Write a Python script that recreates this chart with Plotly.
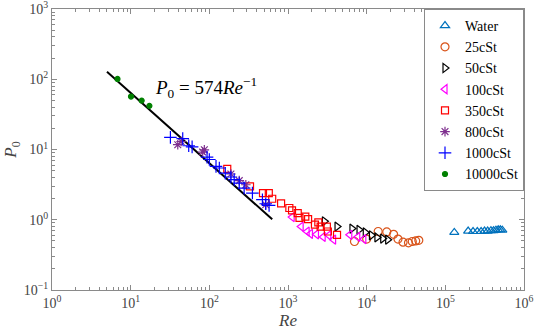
import numpy as np
import plotly.graph_objects as go

# ---- data ----
water_re = [130e3, 195e3, 225e3, 255e3, 285e3, 315e3, 345e3, 380e3, 410e3, 440e3, 470e3, 500e3, 530e3]
water_p0 = [0.66, 0.69, 0.68, 0.68, 0.68, 0.69, 0.69, 0.70, 0.70, 0.71, 0.72, 0.72, 0.71]

c25_re = [7000, 10000, 14000, 18000, 22000, 25000, 29000, 34000, 38000, 42000, 46000]
c25_p0 = [0.49, 0.53, 0.68, 0.67, 0.62, 0.53, 0.48, 0.47, 0.49, 0.50, 0.51]

c50_re = [2900, 4200, 6500, 8000, 9600, 11500, 13500, 16000, 18500]
c50_p0 = [0.95, 0.80, 0.75, 0.72, 0.66, 0.60, 0.56, 0.54, 0.52]

c100_re = [1130, 1470, 1750, 1930, 2300, 2800, 3300, 3800, 6100, 7700, 9200]
c100_p0 = [1.09, 0.80, 0.68, 0.63, 0.62, 0.57, 0.60, 0.52, 0.61, 0.57, 0.53]

c350_re = [169, 329, 481, 570, 630, 817, 1040, 1125, 1330, 1400, 1660, 1800, 2200, 2430, 2600, 3120, 3210, 4200]
c350_p0 = [5.3, 2.98, 2.39, 2.39, 1.99, 1.71, 1.47, 1.36, 1.24, 1.06, 1.11, 1.02, 0.85, 0.92, 0.80, 0.80, 0.68, 0.61]

c800_re = [39.7, 43.8, 86.4, 82.3, 188, 240, 291, 521]
c800_p0 = [11.7, 13.0, 9.9, 9.2, 4.48, 3.6, 3.15, 1.64]

c1000_re = [32, 45.9, 54.7, 60.4, 93.5, 100, 121.6, 134, 159.5, 188, 207, 240, 277, 353, 473, 521, 575]
c1000_p0 = [14.9, 14.3, 11.3, 10.9, 7.8, 7.2, 5.75, 5.45, 4.6, 4.06, 3.72, 3.33, 2.82, 2.4, 1.93, 1.69, 1.6]

c10000_re = [6.8, 10.1, 13.8, 17.3]
c10000_p0 = [101, 56.7, 49.7, 41.8]

fit_re = [5, 630]
fit_coef = 640  # drawn line as it appears

x_tick_vals = [1, 10, 100, 1e3, 1e4, 1e5, 1e6]
x_tick_text = ["10<sup>0</sup>", "10<sup>1</sup>", "10<sup>2</sup>", "10<sup>3</sup>",
               "10<sup>4</sup>", "10<sup>5</sup>", "10<sup>6</sup>"]
y_tick_vals = [0.1, 1, 10, 100, 1000]
y_tick_text = ["10<sup>−1</sup>", "10<sup>0</sup>", "10<sup>1</sup>", "10<sup>2</sup>", "10<sup>3</sup>"]

FONT = "Liberation Serif"
AX = "#8a8a8a"

fig = go.Figure()

fit_p = [fit_coef / r for r in fit_re]
fig.add_trace(go.Scatter(x=fit_re, y=fit_p, mode="lines",
                         line=dict(color="black", width=2), showlegend=False, hoverinfo="skip"))

series = [
    ("Water", water_re, water_p0, "triangle-up-open", "#0072BD", 8),
    ("25cSt", c25_re, c25_p0, "circle-open", "#D95319", 8),
    ("50cSt", c50_re, c50_p0, "triangle-right-open", "#000000", 8),
    ("100cSt", c100_re, c100_p0, "triangle-left-open", "#FF00FF", 8),
    ("350cSt", c350_re, c350_p0, "square-open", "#FF0000", 7),
    ("800cSt", c800_re, c800_p0, "asterisk-open", "#7E2F8E", 8),
    ("1000cSt", c1000_re, c1000_p0, "cross-thin-open", "#0000FF", 9),
    ("10000cSt", c10000_re, c10000_p0, "circle", "#008000", 5),
]
for name, xs, ys, sym, col, sz in series:
    fig.add_trace(go.Scatter(x=xs, y=ys, mode="markers", name=name,
                             marker=dict(symbol=sym, color=col, size=sz,
                                         line=dict(color=col, width=1.2))))

minor_x = [m * 10 ** e for e in range(0, 6) for m in range(2, 10)]
minor_y = [m * 10 ** e for e in range(-1, 3) for m in range(2, 10)]

axis_common = dict(type="log", showline=True, linecolor=AX, linewidth=1, mirror="ticks",
                   ticks="inside", ticklen=5, tickcolor=AX, showgrid=False, zeroline=False,
                   tickmode="array", automargin=False, ticklabeloverflow="allow",
                   tickfont=dict(family=FONT, size=14, color="#444"))

fig.update_xaxes(**axis_common, range=[0, 6], tickvals=x_tick_vals, ticktext=x_tick_text,
                 minor=dict(tickmode="array", tickvals=minor_x, ticks="inside", ticklen=3, tickcolor=AX),
                 title=dict(text="<i>Re</i>", font=dict(family=FONT, size=17, color="#444"), standoff=2))
fig.update_yaxes(**axis_common, range=[-1, 3], tickvals=y_tick_vals, ticktext=y_tick_text,
                 minor=dict(tickmode="array", tickvals=minor_y, ticks="inside", ticklen=3, tickcolor=AX),
                 title=dict(text="<i>P</i><sub>0</sub>", font=dict(family=FONT, size=17, color="#444"), standoff=2))

fig.add_annotation(x=np.log10(92), y=np.log10(76), xref="x", yref="y",
                   text="<i>P</i><sub>0</sub> = 574<i>Re</i><sup>−1</sup>", showarrow=False,
                   font=dict(family=FONT, size=19, color="black"))

fig.update_layout(
    width=534, height=331,
    margin=dict(l=52, r=10, t=9, b=41),
    plot_bgcolor="white", paper_bgcolor="white",
    font=dict(family=FONT, color="black"),
    legend=dict(x=1, y=1, xanchor="right", yanchor="top", bgcolor="white",
                bordercolor=AX, borderwidth=1, font=dict(family=FONT, size=14, color="black"),
                itemwidth=30, tracegroupgap=0),
)

fig.write_html("out.html", post_script="document.body.style.margin='0';",
               config={"displayModeBar": False})
